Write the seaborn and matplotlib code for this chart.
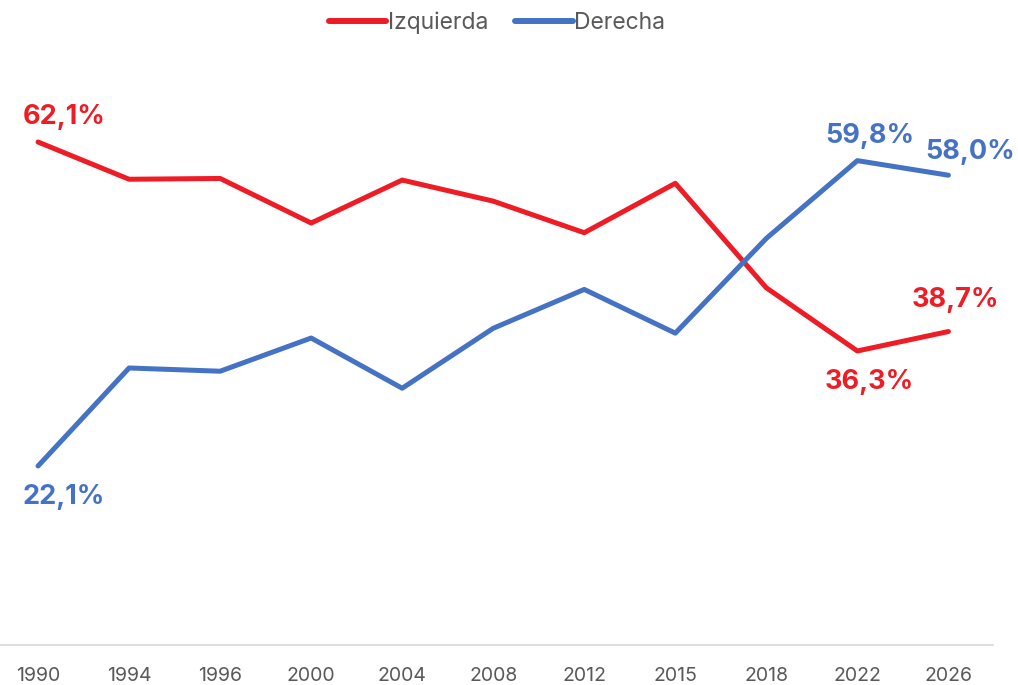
import pandas as pd
import matplotlib
matplotlib.use("Agg")
import matplotlib.pyplot as plt
import seaborn as sns

# Data
years = ["1990", "1994", "1996", "2000", "2004", "2008", "2012", "2015", "2018", "2022", "2026"]
izquierda = [62.1, 57.5, 57.6, 52.1, 57.4, 54.8, 50.9, 57.0, 44.1, 36.3, 38.7]
derecha = [22.1, 34.2, 33.8, 37.9, 31.7, 39.1, 43.9, 38.5, 50.2, 59.8, 58.0]

RED = "#EE1C25"
BLUE = "#4472C4"
GREY = "#595959"

df = pd.DataFrame({"Año": years * 2,
                   "Valor": izquierda + derecha,
                   "Serie": ["Izquierda"] * len(years) + ["Derecha"] * len(years)})

sns.set_theme(style="white")
plt.rcParams["font.family"] = ["Inter", "DejaVu Sans"]

fig = plt.figure(figsize=(10.18, 6.85), dpi=100)
ax = fig.add_axes([0.0, 0.0584, 993 / 1018, 0.8277])

sns.lineplot(data=df, x="Año", y="Valor", hue="Serie", palette={"Izquierda": RED, "Derecha": BLUE},
             linewidth=3.6, sort=False, ax=ax, legend=False)
for line in ax.lines:
    line.set_solid_capstyle("round")

ax.set_xlim(-0.418, 10.49)
ax.set_ylim(0, 70)
ax.set_xlabel("")
ax.set_ylabel("")
ax.set_yticks([])
ax.tick_params(axis="x", length=0, pad=22, labelsize=14, labelcolor=GREY)
for lab in ax.get_xticklabels():
    lab.set_verticalalignment("center")
for s in ["top", "right", "left"]:
    ax.spines[s].set_visible(False)
ax.spines["bottom"].set_color("#D9D9D9")
ax.spines["bottom"].set_linewidth(1.2)

# Data labels (first and last points)
labels = [
    (0, izquierda[0], RED, (26, 25)),
    (0, derecha[0], BLUE, (26, -31)),
    (9, derecha[9], BLUE, (12, 25)),
    (10, derecha[10], BLUE, (22, 23)),
    (10, izquierda[10], RED, (7, 32)),
    (9, izquierda[9], RED, (12, -31)),
]
for x, v, c, off in labels:
    ax.annotate(f"{v:.1f}%".replace(".", ","), (x, v), xytext=off, textcoords="offset pixels",
                ha="center", va="center", color=c, fontsize=19.5, fontweight="bold", annotation_clip=False)

handles = [plt.Line2D([], [], color=RED, lw=4.3, solid_capstyle="round"),
           plt.Line2D([], [], color=BLUE, lw=4.3, solid_capstyle="round")]
leg = fig.legend(handles, ["Izquierda", "Derecha"], loc="center", bbox_to_anchor=(497 / 1018, 1 - 23 / 685),
                 ncol=2, frameon=False, fontsize=16.5, handlelength=2.5, handletextpad=0.05, columnspacing=1.2)
for t in leg.get_texts():
    t.set_color(GREY)

fig.savefig("out.png", dpi=100)
